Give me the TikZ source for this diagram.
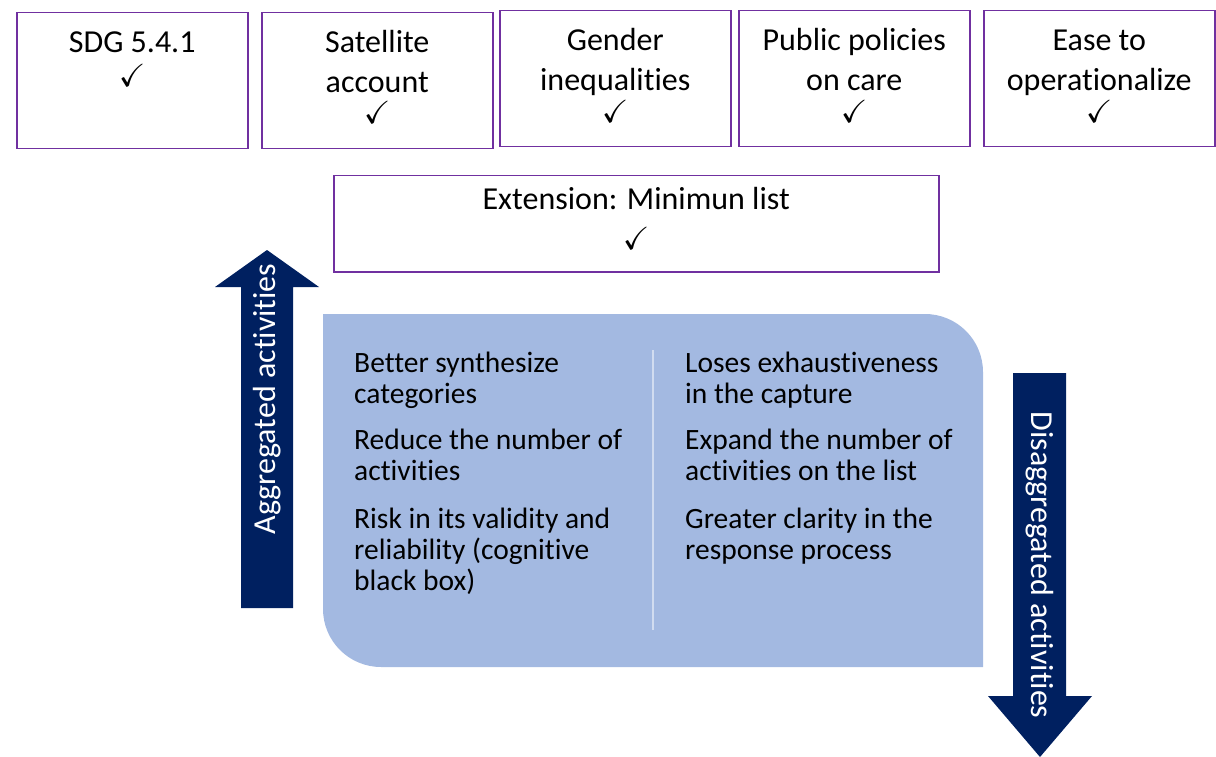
\documentclass[tikz,border=0pt]{standalone}
\usepackage{fontspec}
\usepackage{amssymb}
\setmainfont{Carlito}[Ligatures=NoCommon]
\definecolor{boxline}{HTML}{7030A0}
\definecolor{navy}{HTML}{002060}
\definecolor{panel}{HTML}{A3B9E1}
\tikzset{
  topbox/.style={draw=boxline, line width=1.5pt, minimum width=231pt, minimum height=136pt, anchor=north west, inner sep=0pt},
  boxtext/.style={anchor=north, align=center, font=\fontsize{32}{40}\selectfont, inner sep=0pt},
  tick/.style={anchor=base, font=\fontsize{32}{40}\selectfont, inner sep=0pt},
  listtext/.style={anchor=north west, align=left, font=\fontsize{29.5}{31}\selectfont, inner sep=0pt},
  arrowtext/.style={text=white, font=\fontsize{32}{38}\selectfont, inner sep=0pt}
}
\begin{document}
\begin{tikzpicture}[x=1pt, y=-1pt]
  \useasboundingbox (0,0) rectangle (1216,757);
  % criteria boxes
  \node[topbox] (sdg) at (16,12) {};
  \node[topbox] (satellite) at (261,12) {};
  \node[topbox] (gender) at (499,10) {};
  \node[topbox] (policies) at (738,10) {};
  \node[topbox] (ease) at (983,10) {};
  \node[boxtext] (sdgtext) at ([yshift=-12pt]sdg.north) {\strut SDG 5.4.1};
  \node[boxtext] (satellitetext) at ([yshift=-12pt]satellite.north) {\strut Satellite\\account};
  \node[boxtext] (gendertext) at ([yshift=-12pt]gender.north) {\strut Gender\\inequalities};
  \node[boxtext] (policiestext) at ([yshift=-12pt]policies.north) {\strut Public policies\\on care};
  \node[boxtext] (easetext) at ([yshift=-12pt]ease.north) {\strut Ease to\\operationalize};
  \node[tick] (sdgtick) at ([yshift=-75pt]sdg.north) {$\checkmark$};
  \node[tick] (satellitetick) at ([yshift=-112pt]satellite.north) {$\checkmark$};
  \node[tick] (gendertick) at ([yshift=-113pt]gender.north) {$\checkmark$};
  \node[tick] (policiestick) at ([yshift=-113pt]policies.north) {$\checkmark$};
  \node[tick] (easetick) at ([yshift=-113pt]ease.north) {$\checkmark$};
  \node[topbox, minimum width=605pt, minimum height=96pt] (extension) at (333,175) {};
  \node[boxtext] (extensiontext) at ([yshift=-6pt]extension.north) {\strut Extension: Minimun list\\$\checkmark$};
  % panel
  \fill[panel] (323,314) -- (925,314) .. controls (957,314) and (983,340) .. (983,372)
    -- (983,667) -- (381,667) .. controls (349,667) and (323,641) .. (323,609) -- cycle;
  \coordinate (divtop) at (653,350);
  \coordinate (divbot) at (653,630);
  \draw[white, opacity=0.5, line width=1.5pt] (divtop) -- (divbot);
  \node[listtext] (pros) at (354,351) {\strut Better synthesize\\categories\\[15pt]Reduce the number of\\activities\\[17pt]Risk in its validity and\\reliability (cognitive\\black box)};
  \node[listtext] (cons) at (685,351) {\strut Loses exhaustiveness\\in the capture\\[15pt]Expand the number of\\activities on the list\\[17pt]Greater clarity in the\\response process};
  % arrows
  \fill[navy] (241,608) -- (241,287) -- (215,287) -- (267,250) -- (319,287) -- (293,287) -- (293,608) -- cycle;
  \node[arrowtext, rotate=90] (uparrow) at (267,399) {Aggregated activities};
  \fill[navy] (1013,373) -- (1013,696) -- (988,696) -- (1040,757) -- (1092,696) -- (1066,696) -- (1066,373) -- cycle;
  \node[arrowtext, rotate=-90] (downarrow) at (1040,565) {Disaggregated activities};
\end{tikzpicture}
\end{document}
